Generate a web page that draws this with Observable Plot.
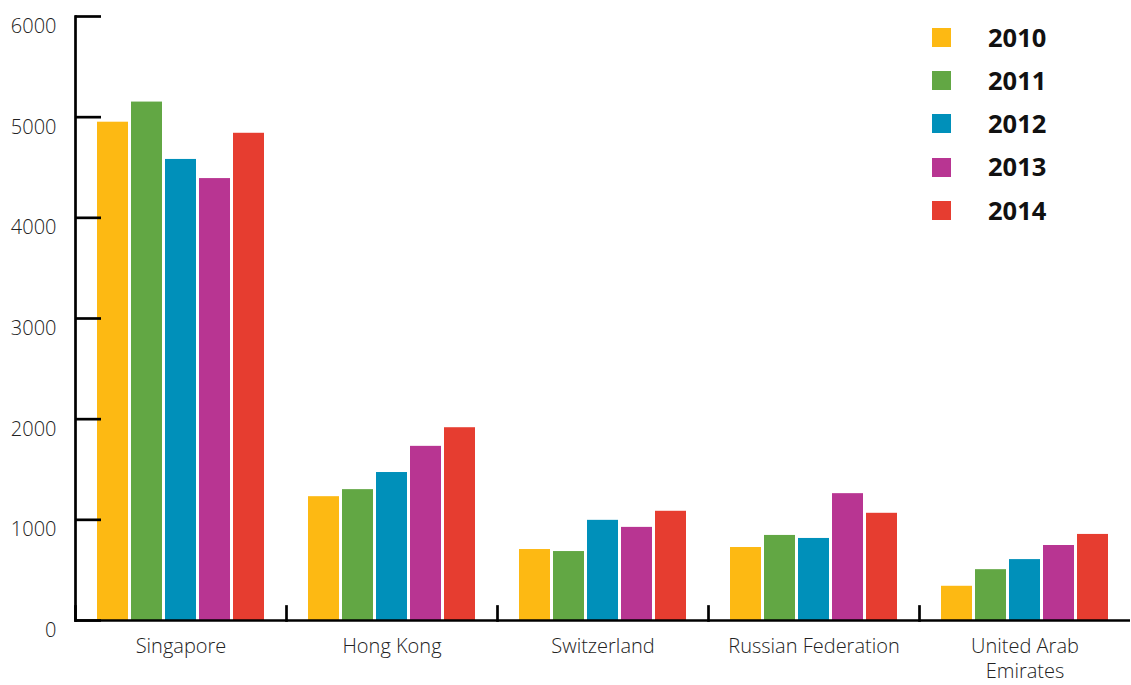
<!DOCTYPE html>
<html><head><meta charset="utf-8">
<script src="https://cdn.jsdelivr.net/npm/d3@7"></script>
<script src="https://cdn.jsdelivr.net/npm/@observablehq/plot@0.6"></script>
<style>
body{margin:0;background:#fff;}
#wrap{position:relative;width:1131px;height:685px;font-family:"Open Sans",sans-serif;}
#legend{position:absolute;left:932px;top:16px;}
.item{display:flex;align-items:center;height:43.2px;}
.sw{width:19px;height:19px;flex:none;}
.lab{margin-left:37px;font-weight:700;font-size:25.5px;line-height:1;color:#111;}
</style></head><body><div id="wrap"><div id="legend"></div></div>
<script>
const countries = ["Singapore", "Hong Kong", "Switzerland", "Russian Federation", "United Arab Emirates"];
const years = ["2010", "2011", "2012", "2013", "2014"];
const colors = ["#FDB913", "#62A744", "#0090BA", "#B83592", "#E63D30"];
const v2010 = [4950, 1230, 705, 725, 340];
const v2011 = [5150, 1300, 685, 845, 505];
const v2012 = [4580, 1470, 995, 815, 605];
const v2013 = [4390, 1730, 925, 1260, 745];
const v2014 = [4840, 1915, 1085, 1065, 855];
const yTicks = [0, 1000, 2000, 3000, 4000, 5000, 6000];

const series = [v2010, v2011, v2012, v2013, v2014];
const data = [];
years.forEach((y, j) => countries.forEach((c, i) => data.push({country: c, year: y, value: series[j][i]})));

const fmt = d => d === "United Arab Emirates" ? "United Arab\nEmirates" : d;

const chart = Plot.plot({
  width: 1131, height: 685,
  marginLeft: 74, marginRight: 0, marginTop: 16, marginBottom: 65,
  style: {fontFamily: '"Open Sans", sans-serif', color: "#000", background: "#fff"},
  fx: {domain: countries, padding: 0, label: null},
  x: {domain: years, paddingInner: 0.088, paddingOuter: 0.6, axis: null},
  y: {domain: [0, 6000], label: null},
  color: {domain: years, range: colors},
  marks: [
    Plot.barY(data, {fx: "country", x: "year", y: "value", fill: "year"}),
    Plot.frame({anchor: "left", insetTop: 590, stroke: "#000", strokeWidth: 2.7}),
    Plot.frame({anchor: "left", facetAnchor: "left", stroke: "#000", strokeWidth: 2.7}),
    Plot.ruleY([0], {stroke: "#000", strokeWidth: 2.7}),
    Plot.axisY({ticks: yTicks, tickSize: -26, stroke: "#000", strokeWidth: 2.7, tickFormat: () => "", label: null}),
    Plot.axisY({ticks: yTicks, tickSize: 0, tickPadding: 19, dy: 10, fontSize: 20, fill: "#222", fontWeight: 300, tickFormat: d => String(d), label: null}),
    Plot.axisFx({anchor: "bottom", tickSize: 0, tickPadding: 14, fontSize: 20, lineHeight: 1.27, fill: "#222", fontWeight: 300, tickFormat: fmt, label: null})
  ]
});
document.getElementById("wrap").prepend(chart);
chart.style.position = "absolute";
chart.style.left = "0";
chart.style.top = "0";

const legend = document.getElementById("legend");
years.forEach((y, j) => {
  const item = document.createElement("div");
  item.className = "item";
  const sw = document.createElement("div");
  sw.className = "sw";
  sw.style.background = colors[j];
  const lab = document.createElement("div");
  lab.className = "lab";
  lab.textContent = y;
  item.append(sw, lab);
  legend.append(item);
});
</script>
</body></html>
